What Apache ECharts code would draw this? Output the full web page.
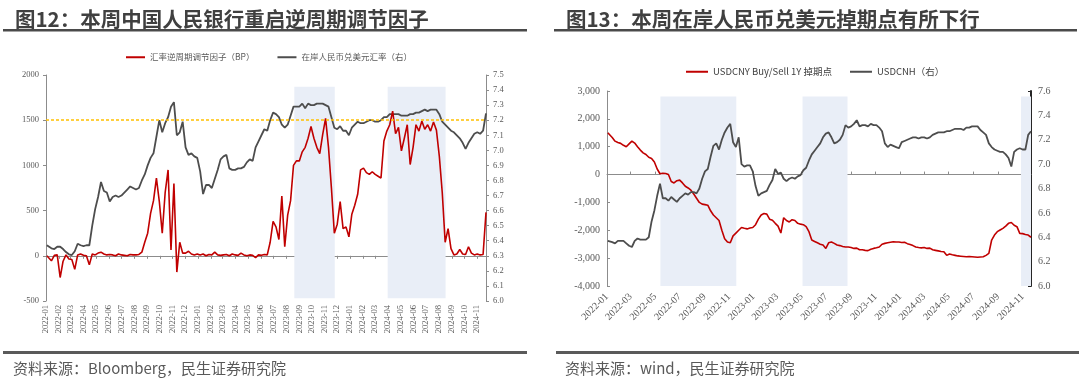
<!DOCTYPE html>
<html><head><meta charset="utf-8">
<script src="https://cdn.jsdelivr.net/npm/echarts@6/dist/echarts.min.js"></script>
<style>html,body{margin:0;padding:0;background:#fff}#c{width:1080px;height:380px}</style>
</head><body><div id="c"></div>
<script>
// ---------- sampling dates: first trading day, then weekly Fridays ----------
const firstDate = '2022-01-03';
const firstFriday = [2022, 0, 7];
const weekCount = 151;   // 2022-01-07 ... 2024-11-22

// ---------- tick labels ----------
const leftMonthLabels = ['2022-01','2022-02','2022-03','2022-04','2022-05','2022-06','2022-07','2022-08','2022-09','2022-10','2022-11','2022-12',
  '2023-01','2023-02','2023-03','2023-04','2023-05','2023-06','2023-07','2023-08','2023-09','2023-10','2023-11','2023-12',
  '2024-01','2024-02','2024-03','2024-04','2024-05','2024-06','2024-07','2024-08','2024-09','2024-10','2024-11'];
const rightMonthLabels = ['2022-01','2022-03','2022-05','2022-07','2022-09','2022-11','2023-01','2023-03','2023-05','2023-07','2023-09','2023-11',
  '2024-01','2024-03','2024-05','2024-07','2024-09','2024-11'];

// ---------- Fig 12: counter-cyclical factor (BP) ----------
const ccf2022 = [0,
  -10,-55,5,10,  -240,-60,10,-35,  -40,-150,10,20,  5,0,-100,20,10,  30,40,20,10,  15,10,0,20,
  10,5,0,15,10,  10,15,40,150,  250,470,610,860,600,  250,700,950,65,  800,-180,150,30,  30,50,20,10,20];
const ccf2023 = [10,20,0,15,  10,40,10,5,  10,15,0,20,10,  5,30,10,0,  10,5,-20,10,  5,15,10,150,380,
  320,180,660,100,  450,610,1000,1050,  1050,1150,1200,1300,1430,  1300,1200,1130,1340,  1520,1200,750,250,  350,600,300,320,210];
const ccf2024 = [460,560,680,950,  970,920,900,930,  900,880,860,1270,1380,  1450,1600,1350,1420,  1160,1300,1450,1010,1200,
  1450,1380,1490,1400,  1450,1380,1480,1390,  1100,700,150,300,80,  10,20,70,20,  15,100,30,10,  20,10,15,480];
// onshore USDCNY (right axis)
const cny2022 = [6.37,
  6.37,6.35,6.345,6.36,  6.36,6.345,6.325,6.31,  6.305,6.33,6.38,6.37,  6.365,6.37,6.37,6.50,6.61,  6.69,6.79,6.73,6.72,
  6.66,6.69,6.70,6.69,  6.70,6.72,6.74,6.76,6.75,  6.74,6.75,6.80,6.84,  6.90,6.95,6.98,7.09,7.20,  7.12,7.18,7.22,7.29,
  7.32,7.10,7.12,7.19,  7.02,6.97,6.98,6.96,6.95];
const cny2023 = [6.86,6.71,6.77,6.77,  6.75,6.81,6.87,6.94,  6.96,6.97,6.88,6.87,6.87,  6.88,6.88,6.89,6.92,  6.94,6.93,7.02,7.06,
  7.10,7.14,7.13,7.20,7.25,  7.24,7.22,7.17,7.15,  7.17,7.23,7.29,7.29,  7.29,7.31,7.28,7.31,7.30,  7.30,7.31,7.31,7.31,
  7.30,7.29,7.22,7.15,  7.14,7.16,7.13,7.13,7.10];
const cny2024 = [7.15,7.17,7.19,7.18,  7.18,7.19,7.20,7.20,  7.19,7.19,7.20,7.22,7.22,  7.24,7.24,7.24,7.24,  7.23,7.23,7.23,7.24,7.24,
  7.25,7.25,7.26,7.27,  7.26,7.27,7.27,7.27,  7.24,7.19,7.17,7.15,7.13,  7.12,7.10,7.08,7.05,  7.01,7.05,7.08,7.11,  7.12,7.11,7.13,7.245];

// ---------- Fig 13: USDCNY 1Y swap points ----------
const swap2022 = [1500,
  1450,1330,1200,1150,  1120,1050,1000,1100,  1200,1130,1000,880,  780,720,620,580,450,  200,30,50,40,  0,-250,-300,-220,
  -200,-300,-420,-480,-560,  -700,-850,-1000,-1060,  -1080,-1100,-1300,-1450,-1550,  -1650,-2000,-2300,-2420,
  -2450,-2200,-2100,-2000,  -1900,-1930,-1950,-1920,-1900];
const swap2023 = [-1800,-1600,-1450,-1400,  -1420,-1600,-1640,-1750,  -1850,-2100,-1550,-1650,-1700,  -1620,-1650,-1750,-1780,
  -1800,-1870,-2050,-2350,  -2400,-2450,-2500,-2530,-2650,  -2450,-2420,-2470,-2530,  -2550,-2580,-2600,-2600,
  -2620,-2650,-2640,-2700,-2700,  -2720,-2730,-2680,-2650,  -2630,-2600,-2500,-2470,  -2450,-2430,-2410,-2420,-2420];
const swap2024 = [-2440,-2430,-2480,-2510,  -2550,-2600,-2620,-2630,  -2620,-2650,-2640,-2700,-2720,  -2740,-2760,-2770,-2900,
  -2850,-2880,-2900,-2920,-2930,  -2940,-2950,-2940,-2950,  -2960,-2970,-2960,-2950,  -2900,-2830,-2350,-2170,-2050,
  -1990,-1930,-1850,-1750,  -1720,-1820,-1870,-2110,  -2120,-2150,-2170,-2250];
// USDCNH (right axis)
const cnh2022 = [6.37,
  6.37,6.36,6.35,6.37,  6.37,6.37,6.35,6.33,  6.32,6.37,6.39,6.38,  6.38,6.38,6.40,6.53,6.62,  6.74,6.84,6.72,6.72,
  6.70,6.73,6.71,6.69,  6.72,6.74,6.76,6.75,6.77,  6.77,6.76,6.80,6.88,  6.94,6.96,7.06,7.15,7.17,  7.12,7.20,7.26,7.30,
  7.33,7.18,7.14,7.22,  7.00,6.98,6.99,6.99,6.94];
const cnh2023 = [6.82,6.74,6.76,6.77,  6.78,6.83,6.87,6.96,  6.92,6.93,6.88,6.86,6.88,  6.89,6.88,6.90,6.91,  6.95,6.97,7.03,7.08,
  7.11,7.14,7.17,7.22,7.25,  7.26,7.22,7.17,7.18,  7.20,7.24,7.32,7.30,  7.31,7.33,7.36,7.31,7.32,  7.32,7.31,7.33,7.32,
  7.32,7.30,7.27,7.17,  7.14,7.16,7.15,7.14,7.13];
const cnh2024 = [7.18,7.19,7.20,7.21,  7.22,7.22,7.21,7.22,  7.22,7.21,7.22,7.24,7.25,  7.26,7.26,7.26,7.27,  7.27,7.28,7.29,7.29,7.29,
  7.28,7.30,7.30,7.31,  7.31,7.31,7.28,7.26,  7.24,7.17,7.14,7.12,7.11,  7.10,7.10,7.08,7.05,  6.98,7.10,7.12,7.13,  7.12,7.12,7.24,7.27];

// ---------- shaded periods ----------
const leftShades = [['2023-08-20','2023-11-25'], ['2024-03-31','2024-08-17']];
const rightShades = [['2022-05-14','2022-11-19'], ['2023-05-03','2023-08-23'], ['2024-10-28','2024-11-22']];

// ---------- build ----------
const P = s => echarts.number.parseDate(s).getTime();
function buildDates() {
  const out = [firstDate];
  const t0 = Date.UTC(firstFriday[0], firstFriday[1], firstFriday[2]);
  for (let i = 0; i < weekCount; i++) out.push(new Date(t0 + i * 7 * 86400000).toISOString().slice(0, 10));
  return out;
}
const dates = buildDates();
const pair = vals => dates.map((d, i) => [P(d), vals[i]]);
const ccf = pair(ccf2022.concat(ccf2023, ccf2024));
const cny = pair(cny2022.concat(cny2023, cny2024));
const swap = pair(swap2022.concat(swap2023, swap2024));
const cnh = pair(cnh2022.concat(cnh2023, cnh2024));

const xMin = P('2022-01-01'), xMax = P('2024-11-22');
const leftTicks = leftMonthLabels.map(s => P(s + '-01'));
const rightTicks = rightMonthLabels.map(s => P(s + '-01'));
const labelMap = {};
leftMonthLabels.forEach((s, i) => { labelMap[leftTicks[i]] = s; });

const AX = '#8c8c8c', TXT = '#595959', SERIF = '"Liberation Serif", "Times New Roman", serif', CJK = 'Noto Sans CJK SC';
const shadeColor = '#E9EEF7';

function labelAxis(grid, ticks, rotate, size, margin) {
  return { gridIndex: grid, type: 'value', min: xMin, max: xMax, position: 'bottom',
    axisLine: { show: false, onZero: false }, axisTick: { show: false }, splitLine: { show: false },
    axisLabel: { customValues: ticks, rotate: rotate, fontSize: size, fontFamily: SERIF, color: TXT, margin: margin,
      showMinLabel: true, showMaxLabel: true, formatter: v => labelMap[v] || '' } };
}
function zeroAxis(grid, ticks, inside) {
  return { gridIndex: grid, type: 'value', min: xMin, max: xMax, position: 'bottom',
    axisLine: { show: true, onZero: true, lineStyle: { color: AX, width: 1 } },
    axisTick: { show: true, customValues: ticks, inside: inside, length: 3, lineStyle: { color: AX } },
    axisLabel: { show: false }, splitLine: { show: false } };
}
function valAxis(grid, pos, min, max, interval, fmt, size, lineColor, lineWidth, inside) {
  return { gridIndex: grid, type: 'value', position: pos, min: min, max: max, interval: interval,
    splitLine: { show: false },
    axisLine: { show: true, onZero: false, lineStyle: { color: lineColor, width: lineWidth } },
    axisTick: { show: true, inside: inside, length: 3, lineStyle: { color: lineColor } },
    axisLabel: { fontSize: size, fontFamily: SERIF, color: TXT, margin: 7, formatter: fmt } };
}

const chart = echarts.init(document.getElementById('c'), null, { renderer: 'canvas' });
chart.setOption({
  animation: false,
  backgroundColor: '#fff',
  title: [
    { text: '图12：本周中国人民银行重启逆周期调节因子', left: 10, top: 4, textStyle: { fontSize: 20.5, fontWeight: 'bold', color: '#404040', fontFamily: CJK } },
    { text: '图13：本周在岸人民币兑美元掉期点有所下行', left: 561, top: 4, textStyle: { fontSize: 20.5, fontWeight: 'bold', color: '#404040', fontFamily: CJK } },
    { text: '资料来源：Bloomberg，民生证券研究院', left: 8, top: 356, textStyle: { fontSize: 15, fontWeight: 'normal', color: TXT, fontFamily: CJK } },
    { text: '资料来源：wind，民生证券研究院', left: 560, top: 356, textStyle: { fontSize: 15, fontWeight: 'normal', color: TXT, fontFamily: CJK } }
  ],
  graphic: [
    { type: 'rect', shape: { x: 3, y: 29, width: 524, height: 2.5 }, style: { fill: '#4a4a4a' } },
    { type: 'rect', shape: { x: 554, y: 29, width: 523, height: 2.5 }, style: { fill: '#4a4a4a' } },
    { type: 'rect', shape: { x: 3, y: 351, width: 524, height: 3 }, style: { fill: '#5a5a5a' } },
    { type: 'rect', shape: { x: 556, y: 351, width: 523, height: 3 }, style: { fill: '#5a5a5a' } }
  ],
  legend: [
    { data: ['汇率逆周期调节因子（BP）', '在岸人民币兑美元汇率（右）'], left: 121, top: 48, icon: 'rect', itemWidth: 19, itemHeight: 2, itemGap: 23,
      textStyle: { fontSize: 8.5, color: TXT, fontFamily: CJK } },
    { data: ['USDCNY Buy/Sell 1Y 掉期点', 'USDCNH（右）'], left: 681, top: 62, icon: 'rect', itemWidth: 22, itemHeight: 2, itemGap: 18,
      textStyle: { fontSize: 9.5, color: '#404040', fontFamily: CJK } }
  ],
  grid: [
    { left: 46, top: 75, width: 440, height: 226 },
    { left: 607, top: 91, width: 424, height: 195 }
  ],
  xAxis: [
    labelAxis(0, leftTicks, 90, 8.5, 4),
    zeroAxis(0, leftTicks, false),
    labelAxis(1, rightTicks, 45, 10, 9),
    zeroAxis(1, rightTicks, true)
  ],
  yAxis: [
    valAxis(0, 'left', -500, 2000, 500, v => String(v), 8.5, AX, 1, false),
    valAxis(0, 'right', 6.0, 7.5, 0.1, v => v.toFixed(1), 8.5, AX, 1, false),
    valAxis(1, 'left', -4000, 3000, 1000, v => v.toLocaleString('en-US'), 10, AX, 1, true),
    valAxis(1, 'right', 6.0, 7.6, 0.2, v => v.toFixed(1), 10, '#262626', 2, true)
  ],
  series: [
    { name: '汇率逆周期调节因子（BP）', type: 'line', xAxisIndex: 0, yAxisIndex: 0, data: ccf, symbol: 'none', color: '#C00000', z: 4,
      lineStyle: { width: 1.6, color: '#C00000' },
      markLine: { silent: true, symbol: ['none', 'none'], label: { show: false }, lineStyle: { color: '#FFC000', type: [3, 2], width: 1.5 },
        data: [{ yAxis: 1500 }] },
      markArea: { silent: true, itemStyle: { color: shadeColor },
        data: leftShades.map(s => [{ xAxis: P(s[0]), yAxis: 1870 }, { xAxis: P(s[1]), yAxis: -470 }]) } },
    { name: '在岸人民币兑美元汇率（右）', type: 'line', xAxisIndex: 0, yAxisIndex: 1, data: cny, symbol: 'none', color: '#4d4d4d', z: 3,
      lineStyle: { width: 1.8, color: '#4d4d4d' } },
    { name: 'USDCNY Buy/Sell 1Y 掉期点', type: 'line', xAxisIndex: 2, yAxisIndex: 2, data: swap, symbol: 'none', color: '#C00000', z: 3,
      lineStyle: { width: 1.6, color: '#C00000' },
      markArea: { silent: true, itemStyle: { color: shadeColor },
        data: rightShades.map(s => [{ xAxis: P(s[0]), yAxis: 2800 }, { xAxis: P(s[1]), yAxis: -4000 }]) } },
    { name: 'USDCNH（右）', type: 'line', xAxisIndex: 2, yAxisIndex: 3, data: cnh, symbol: 'none', color: '#4d4d4d', z: 4,
      lineStyle: { width: 1.8, color: '#4d4d4d' } }
  ]
});
</script></body></html>
